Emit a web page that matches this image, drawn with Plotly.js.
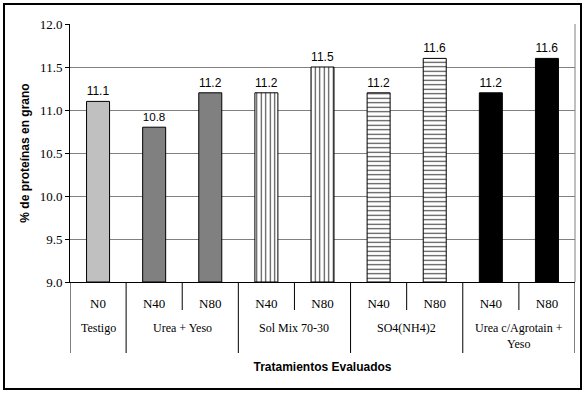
<!DOCTYPE html>
<html>
<head>
<meta charset="utf-8">
<script src="https://cdn.plot.ly/plotly-3.0.1.min.js"></script>
<style>
html,body{margin:0;padding:0;background:#fff;}
#chart{width:586px;height:394px;}
</style>
</head>
<body>
<div id="chart"></div>
<script>
const groupNames = ["Testigo", "Urea + Yeso", "Sol Mix 70-30", "SO4(NH4)2", "Urea c/Agrotain +<br>Yeso"];
const groupSizes = [1, 2, 2, 2, 2];
const doses = ["N0", "N40", "N80", "N40", "N80", "N40", "N80", "N40", "N80"];
const protein = [11.1, 10.8, 11.2, 11.2, 11.5, 11.2, 11.6, 11.2, 11.6];
const barColors = ["#c0c0c0", "#808080", "#808080", "#ffffff", "#ffffff", "#ffffff", "#ffffff", "#000000", "#000000"];
const barPatterns = ["", "", "", "|", "|", "-", "-", "", ""];
const yTicks = [9.0, 9.5, 10.0, 10.5, 11.0, 11.5, 12.0];

const SERIF = "'Times New Roman', 'Liberation Serif', serif";
const SANS = "Arial, 'Liberation Sans', sans-serif";
const idx = doses.map((d, i) => i);
const base = yTicks[0];

const trace = {
  type: "bar",
  x: idx,
  y: protein.map(v => v - base),
  base: base,
  width: 0.41,
  marker: {
    color: barColors,
    line: {color: "#000", width: 1},
    pattern: {shape: barPatterns, fgcolor: "#000", fgopacity: 1, size: 4.5, solidity: 0.25, fillmode: "overlay"}
  },
  text: protein.map(v => v.toFixed(1)),
  textposition: "outside",
  cliponaxis: false,
  textfont: {family: SANS, size: 12, color: "#000"},
  hoverinfo: "none"
};

const plotW = 505, plotH = 258;
const py = px => -(px - 282) / plotH; // pixel row -> paper y

const shapes = [
  {type: "rect", xref: "paper", yref: "paper", x0: -66/plotW, x1: 511/plotW, y0: py(389), y1: py(4), line: {color: "#000", width: 2}, fillcolor: "rgba(0,0,0,0)", layer: "above"},
  {type: "line", xref: "paper", yref: "paper", x0: 1, x1: 1, y0: 0, y1: 1, line: {color: "#808080", width: 1}}
];
const annotations = [];
let start = 0;
groupSizes.forEach((n, g) => {
  shapes.push({type: "line", xref: "x", yref: "paper", x0: start - 0.5, x1: start - 0.5, y0: 0, y1: py(353), line: {color: "#000", width: 1}});
  for (let k = 1; k < n; k++) {
    shapes.push({type: "line", xref: "x", yref: "paper", x0: start + k - 0.5, x1: start + k - 0.5, y0: 0, y1: py(310), line: {color: "#000", width: 1}});
  }
  annotations.push({xref: "x", yref: "paper", x: start + (n - 1) / 2, y: py(319), yanchor: "top", xanchor: "center",
    text: groupNames[g], showarrow: false, font: {family: SERIF, size: 12, color: "#000"}, align: "center"});
  start += n;
});
shapes.push({type: "line", xref: "x", yref: "paper", x0: start - 0.5, x1: start - 0.5, y0: 0, y1: py(353), line: {color: "#000", width: 1}});

const layout = {
  width: 586, height: 394,
  margin: {l: 70, r: 11, t: 24, b: 112},
  paper_bgcolor: "#fff", plot_bgcolor: "#fff",
  showlegend: false,
  font: {family: SERIF, size: 12, color: "#000"},
  yaxis: {
    range: [yTicks[0], yTicks[yTicks.length - 1]],
    tickvals: yTicks, ticktext: yTicks.map(v => v.toFixed(1)),
    showgrid: true, gridcolor: "#808080", gridwidth: 1,
    showline: true, linecolor: "#000", linewidth: 1,
    ticks: "outside", ticklen: 4, tickcolor: "#000",
    tickfont: {family: SERIF, size: 13, color: "#000"},
    zeroline: false,
    title: {text: "% de proteínas en grano", font: {family: SANS, size: 12, weight: "bold", color: "#000"}, standoff: 7}
  },
  xaxis: {
    range: [-0.5, doses.length - 0.5],
    tickvals: idx, ticktext: doses,
    showgrid: false, zeroline: false,
    showline: true, linecolor: "#000", linewidth: 1,
    ticks: "outside", ticklen: 9, tickcolor: "rgba(0,0,0,0)",
    tickfont: {family: SERIF, size: 13, color: "#000"},
    title: {text: "Tratamientos Evaluados", font: {family: SANS, size: 12, weight: "bold", color: "#000"}, standoff: 53}
  },
  shapes: shapes,
  annotations: annotations
};
Plotly.newPlot("chart", [trace], layout, {displayModeBar: false, staticPlot: true});
</script>
</body>
</html>
